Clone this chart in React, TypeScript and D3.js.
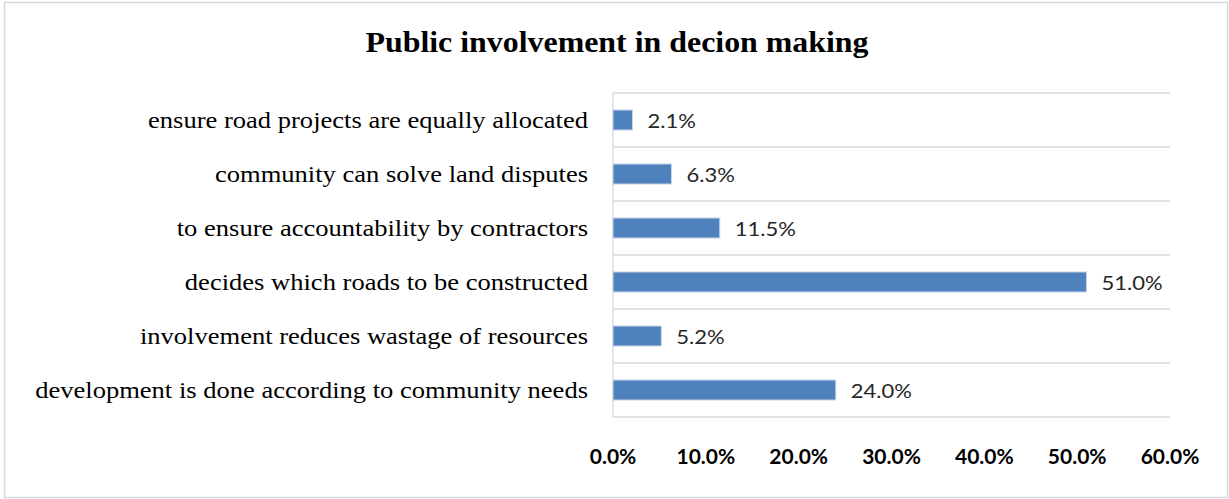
import React from "react";
import * as d3 from "d3";

const categories = [
  "ensure road projects are equally allocated",
  "community can solve land disputes",
  "to ensure accountability by contractors",
  "decides which roads to be constructed",
  "involvement reduces wastage of resources",
  "development is done according to community needs",
];
const values = [2.1, 6.3, 11.5, 51.0, 5.2, 24.0];
const ticks = [0, 10, 20, 30, 40, 50, 60];
const title = "Public involvement in decion making";

const W = 1229;
const H = 499;
const left = 613;
const right = 1170;
const top = 93;
const bottom = 417;

function SText(props: any) {
  const { x, y, sx, children, ...rest } = props;
  return (
    <g transform={`translate(${x},${y}) scale(${sx},1)`}>
      <text x={0} y={0} {...rest}>
        {children}
      </text>
    </g>
  );
}

export default function App() {
  const x = d3.scaleLinear().domain([0, 60]).range([left, right]);
  const y = d3.scaleBand<string>().domain(categories).range([top, bottom]).paddingInner(0.63).paddingOuter(0.315);
  const bandEdges = d3.range(categories.length + 1).map((i) => top + ((bottom - top) / categories.length) * i);
  return (
    <svg width={W} height={H} style={{ position: "absolute", left: 0, top: 0, background: "#fff" }}>
      <rect x={4.5} y={2.5} width={1223} height={495} fill="#fff" stroke="#d9d9d9" strokeWidth={1.5} />
      <SText x={617} y={52} sx={1.1} textAnchor="middle" fontFamily="Liberation Serif" fontWeight="bold" fontSize={29} fill="#000">
        {title}
      </SText>
      {bandEdges.map((e, i) => (
        <line key={i} x1={left} x2={right} y1={e} y2={e} stroke="#d9d9d9" strokeWidth={1.3} />
      ))}
      <line x1={left} x2={left} y1={top} y2={bottom} stroke="#d9d9d9" strokeWidth={1.3} />
      {categories.map((c, i) => (
        <g key={c}>
          <rect
            x={x(0)}
            y={y(c)!}
            width={x(values[i]) - x(0)}
            height={y.bandwidth()}
            fill="#4F81BD"
            stroke="#c6d5ea"
            strokeWidth={1}
          />
          <SText
            x={588}
            y={y(c)! + y.bandwidth() / 2 + 7.8}
            sx={1.13}
            textAnchor="end"
            fontFamily="Liberation Serif"
            fontSize={23.5}
            fill="#000"
          >
            {c}
          </SText>
          <SText
            x={x(values[i]) + 15}
            y={y(c)! + y.bandwidth() / 2 + 7.5}
            sx={1.1}
            fontFamily="Lato"
            fontSize={20}
            fill="#262626"
          >
            {values[i].toFixed(1) + "%"}
          </SText>
        </g>
      ))}
      {ticks.map((t) => (
        <SText key={t} x={x(t)} y={464} sx={1.0} textAnchor="middle" fontFamily="Lato" fontWeight="bold" fontSize={21} fill="#000">
          {t.toFixed(1) + "%"}
        </SText>
      ))}
    </svg>
  );
}
